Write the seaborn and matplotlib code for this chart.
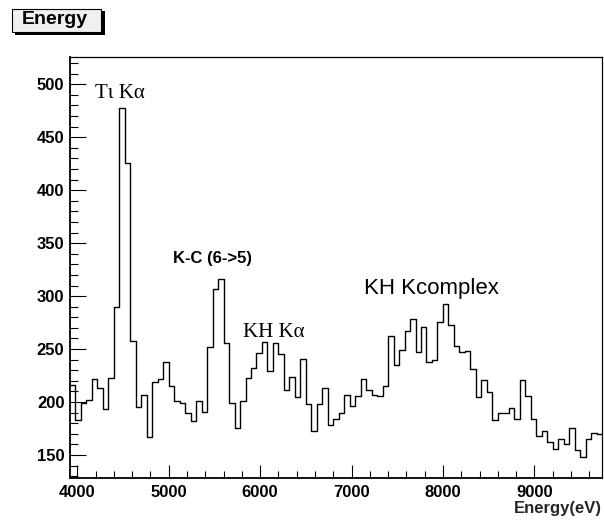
import numpy as np
import pandas as pd
import matplotlib
matplotlib.use("Agg")
import matplotlib.pyplot as plt
from matplotlib.patches import Rectangle
from matplotlib.ticker import MultipleLocator
import seaborn as sns

# ---- data ----
bin_start = 3920.0   # eV, lower edge of first bin
bin_width = 60.0     # eV
counts = [216, 183, 199, 202, 222, 213, 193, 223, 290, 478,
          426, 258, 195, 207, 167, 219, 222, 238, 215, 201,
          199, 190, 182, 201, 191, 252, 307, 316, 256, 199,
          175, 201, 223, 232, 246, 257, 229, 256, 245, 211,
          224, 205, 241, 198, 173, 198, 213, 178, 184, 190,
          207, 196, 206, 222, 211, 207, 206, 215, 262, 235,
          249, 267, 278, 247, 271, 238, 240, 276, 293, 273,
          253, 247, 248, 231, 205, 221, 209, 183, 190, 190,
          194, 184, 221, 206, 184, 168, 173, 162, 156, 165,
          160, 175, 155, 148, 165, 171, 170]
x_major_ticks = [4000, 5000, 6000, 7000, 8000, 9000]
y_major_ticks = [150, 200, 250, 300, 350, 400, 450, 500]
annotations = [
    ("T\u03b9 K\u03b1", 4190, 487, "serif", "normal", 15),
    ("K-C (6->5)", 5046, 331, "sans", "bold", 12),
    ("KH K\u03b1", 5811, 261, "serif", "normal", 15),
    ("KH Kcomplex", 7133, 302, "sans", "normal", 16),
]

n = len(counts)
edges = [float(e) for e in bin_start + bin_width * np.arange(n + 1)]
centers = [e + bin_width / 2 for e in edges[:-1]]
df = pd.DataFrame({"energy": centers, "counts": counts})

sns.set_style("white")
plt.rcParams["font.family"] = ["Liberation Sans", "DejaVu Sans"]

W, H = 604, 520
fig = plt.figure(figsize=(W / 100, H / 100), dpi=100)
fig.patch.set_facecolor("white")
ax = fig.add_axes([70 / W, 42 / H, 532 / W, 421 / H])

sns.histplot(data=df, x="energy", weights="counts", bins=edges,
             element="step", fill=False, color="black", linewidth=1.0, ax=ax)

ax.set_xlim(edges[0], edges[-1])
ax.set_ylim(128.2, 525.8)
ax.set_xticks(x_major_ticks)
ax.set_yticks(y_major_ticks)
ax.xaxis.set_minor_locator(MultipleLocator(200))
ax.yaxis.set_minor_locator(MultipleLocator(10))
ax.tick_params(axis="both", which="both", direction="in", top=False, right=False,
               bottom=True, left=True, colors="black", width=0.8)
ax.tick_params(axis="x", which="major", length=9.5, pad=5)
ax.tick_params(axis="x", which="minor", length=5)
ax.tick_params(axis="y", which="major", length=11.3, pad=4)
ax.tick_params(axis="y", which="minor", length=5.4)
for lab in ax.get_xticklabels() + ax.get_yticklabels():
    lab.set_fontweight("bold")
    lab.set_fontsize(12)
for side in ["left", "bottom"]:
    ax.spines[side].set_linewidth(1.3)
for side in ["top", "right"]:
    ax.spines[side].set_linewidth(0.9)
for s in ax.spines.values():
    s.set_color("black")
    s.set_visible(True)

ax.set_ylabel("")
ax.set_xlabel("Energy(eV)", loc="right", fontweight="bold", fontsize=12, labelpad=1)

for text, xe, yv, fam, weight, size in annotations:
    family = ["Liberation Serif", "DejaVu Serif"] if fam == "serif" else ["Liberation Sans", "DejaVu Sans"]
    ax.text(xe, yv, text, family=family, fontweight=weight, fontsize=size,
            ha="left", va="baseline", color="black")

# title pave with shadow (ROOT style)
def px_rect(x0, y0, x1, y1, **kw):
    return Rectangle((x0 / W, 1 - y1 / H), (x1 - x0) / W, (y1 - y0) / H,
                     transform=fig.transFigure, **kw)

fig.patches.append(px_rect(14.5, 11, 104.5, 34.5, facecolor="black", edgecolor="none", zorder=1))
fig.patches.append(px_rect(11.5, 8.5, 101.5, 31.5, facecolor="#f0f0f0", edgecolor="black",
                           linewidth=0.8, zorder=2))
fig.text(54.5 / W, 1 - 20 / H, "Energy", ha="center", va="center", fontsize=14,
         fontweight="bold", color="black", zorder=3)

fig.savefig("out.png", dpi=100)
